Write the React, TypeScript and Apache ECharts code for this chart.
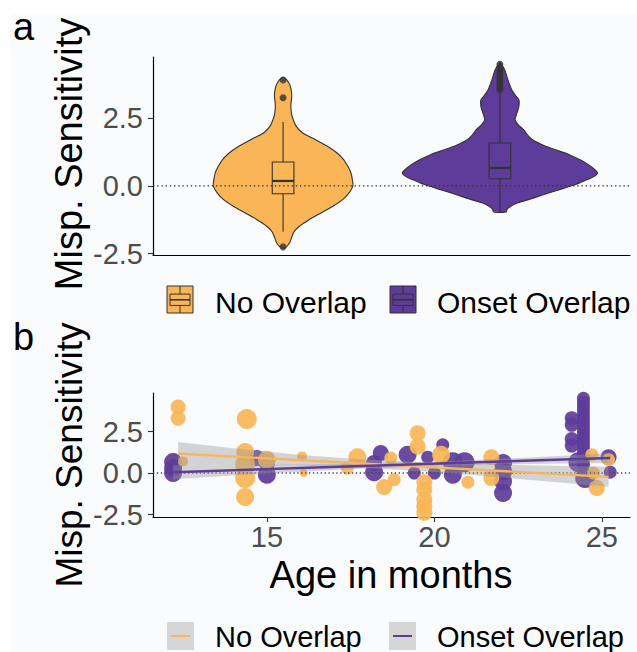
import React, { useEffect, useRef } from "react";
import * as echarts from "echarts";

const FONT = "'Liberation Sans', Arial, Helvetica, sans-serif";

const groups = ["No Overlap", "Onset Overlap"];
const groupColors = ["#F9B556", "#5E3C99"];

// ---- Panel a: violin profiles (value level, half width in category units)
const violinNoLevels = [4.0, 3.9, 3.7, 3.5, 3.3, 3.0, 2.7, 2.5, 2.2, 1.95, 1.7, 1.43, 1.2, 0.96, 0.7, 0.48, 0.2, 0.0, -0.25, -0.5, -0.75, -1.0, -1.25, -1.5, -1.7, -1.87, -2.1, -2.25, -2.3];
const violinNoHalf = [0, 0.018, 0.032, 0.038, 0.04, 0.036, 0.038, 0.044, 0.06, 0.09, 0.15, 0.21, 0.25, 0.28, 0.3, 0.313, 0.32, 0.322, 0.305, 0.276, 0.23, 0.175, 0.12, 0.074, 0.05, 0.041, 0.03, 0.015, 0];
const violinOnsetLevels = [4.56, 4.4, 4.26, 3.9, 3.53, 3.3, 3.16, 2.95, 2.79, 2.6, 2.43, 2.25, 2.06, 1.85, 1.69, 1.5, 1.32, 1.15, 0.96, 0.8, 0.65, 0.48, 0.35, 0.22, 0.1, 0.0, -0.15, -0.33, -0.5, -0.62, -0.75, -0.88, -0.96];
const violinOnsetHalf = [0, 0.014, 0.023, 0.037, 0.055, 0.075, 0.088, 0.088, 0.083, 0.075, 0.07, 0.085, 0.11, 0.13, 0.152, 0.2, 0.26, 0.32, 0.37, 0.405, 0.43, 0.45, 0.435, 0.4, 0.365, 0.33, 0.27, 0.2, 0.135, 0.083, 0.05, 0.032, 0.03];

// boxplot statistics per group
const boxQ1 = [-0.29, 0.26];
const boxMedian = [0.18, 0.66];
const boxQ3 = [0.88, 1.58];
const whiskerLow = [-1.69, -0.95];
const whiskerHigh = [2.35, 3.45];
const outliersNo = [3.9, 3.25, -2.25];
const outliersOnset = [3.55, 3.65, 3.75, 3.85, 3.95, 4.05, 4.15, 4.25, 4.35, 4.48];

// ---- Panel b: points (age, value, size)
const ageNo = [12.35, 12.35, 12.5, 14.4, 14.35, 14.35, 14.35, 14.35, 15.0, 16.05, 16.1, 17.7, 17.4, 18.5, 18.8, 18.7, 19.5, 19.5, 19.7, 19.7, 19.7, 19.7, 19.7, 20.2, 21.0, 21.7, 21.7, 24.7, 24.85, 24.75, 25.2];
const valNo = [3.98, 3.3, 0.7, 3.25, 1.27, 0.5, -0.3, -1.45, 0.8, 1.0, 0.0, 0.95, 0.3, -0.85, -0.4, 0.9, 2.4, 1.6, -0.55, -1.0, -1.6, -2.0, -2.4, 1.1, -0.55, 0.95, -0.3, 1.1, -0.9, 0.0, 0.8];
const sizeNo = [15, 15, 10, 20, 18, 20, 20, 18, 18, 10, 8, 18, 13, 16, 13, 13, 16, 16, 16, 16, 16, 16, 16, 18, 13, 16, 16, 13, 16, 13, 13];

const ageOnset = [12.2, 12.2, 12.2, 14.7, 15.0, 15.0, 18.4, 18.2, 18.2, 19.2, 19.4, 19.8, 20.0, 20.25, 20.55, 20.55, 20.9, 22.05, 22.05, 22.05, 22.05, 24.1, 24.1, 24.1, 24.1, 24.45, 24.45, 24.45, 24.45, 24.45, 24.45, 24.45, 24.45, 24.45, 24.45, 24.45, 24.45, 24.45, 24.45, 24.45, 24.45, 24.45, 24.3, 24.5, 25.2, 25.25];
const valOnset = [0.66, 0.3, 0.0, 0.9, -0.1, 0.6, 1.2, 0.05, 0.6, 1.1, 0.0, 0.95, 0.0, 1.7, 0.65, -0.1, 0.65, 0.6, 0.1, -0.5, -1.2, 3.3, 2.9, 2.05, 1.65, 4.5, 4.25, 4.0, 3.75, 3.5, 3.25, 3.0, 2.75, 2.5, 2.25, 2.0, 1.75, 1.5, 1.25, 1.0, 0.75, 0.5, 0.65, -0.3, 0.95, 0.05];
const sizeOnset = [18, 18, 18, 16, 18, 16, 16, 18, 16, 18, 13, 13, 13, 13, 20, 18, 20, 18, 18, 18, 18, 14, 14, 14, 14, 13, 13, 13, 13, 13, 13, 13, 13, 13, 13, 13, 13, 13, 13, 13, 13, 13, 20, 20, 16, 13];

// linear fits
const fitAgesNo = [12.35, 25.2];
const fitValsNo = [1.17, -0.23];
const fitAgesOnset = [12.2, 25.25];
const fitValsOnset = [0.05, 0.9];

// confidence bands
const bandAgesNo = [12.35, 14, 16, 18, 20, 22, 24, 25.2];
const bandLowNo = [0.47, 0.49, 0.45, 0.3, 0.06, -0.26, -0.62, -0.83];
const bandHighNo = [1.87, 1.49, 1.09, 0.8, 0.62, 0.5, 0.42, 0.37];
const bandAgesOnset = [12.2, 14, 16, 18, 20, 22, 24, 25.25];
const bandLowOnset = [-0.37, -0.15, 0.08, 0.27, 0.42, 0.52, 0.58, 0.6];
const bandHighOnset = [0.47, 0.49, 0.52, 0.59, 0.7, 0.86, 1.06, 1.2];

const yTicks = [-2.5, 0, 2.5];
const xTicksB = [15, 20, 25];

export default function App() {
  const ref = useRef<HTMLDivElement>(null);
  useEffect(() => {
    const chart = echarts.init(ref.current!, null, { renderer: "svg" });
    const violinLevels = [violinNoLevels, violinOnsetLevels];
    const violinHalf = [violinNoHalf, violinOnsetHalf];

    const axisLine = { show: true, onZero: false, lineStyle: { color: "#000", width: 1.2 } };
    const yAxisCommon = (gi: number, min: number, max: number) => ({
      type: "value",
      gridIndex: gi,
      min,
      max,
      axisLine,
      splitLine: { show: false },
      axisTick: { show: true, customValues: yTicks, length: 5, lineStyle: { color: "#333", width: 1.1 } },
      axisLabel: {
        show: true,
        customValues: yTicks,
        formatter: (v: number) => v.toFixed(1),
        fontSize: 29,
        fontFamily: FONT,
        color: "#4D4D4D",
        margin: 10,
      },
    });

    const band = (ages: number[], low: number[], high: number[]) => ({
      type: "custom",
      xAxisIndex: 1,
      yAxisIndex: 1,
      silent: true,
      z: 5,
      data: [[ages[0], low[0]]],
      encode: { x: 0, y: 1 },
      renderItem: (_p: any, api: any) => {
        const pts: number[][] = [];
        ages.forEach((a, k) => pts.push(api.coord([a, high[k]])));
        for (let k = ages.length - 1; k >= 0; k--) pts.push(api.coord([ages[k], low[k]]));
        return { type: "polygon", shape: { points: pts }, style: { fill: "rgba(153,153,153,0.4)" } };
      },
    });

    const legendIconA = (x: number, y: number, color: string) => {
      const w = 26, h = 27;
      return [
        { type: "rect", shape: { x, y, width: w, height: h }, style: { fill: color, stroke: "#333", lineWidth: 1 } },
        { type: "rect", shape: { x: x + 3, y: y + h * 0.3, width: w - 6, height: h * 0.42 }, style: { fill: "none", stroke: "#333", lineWidth: 1 } },
        { type: "line", shape: { x1: x + 3, y1: y + h * 0.51, x2: x + w - 3, y2: y + h * 0.51 }, style: { stroke: "#333", lineWidth: 1.6 } },
        { type: "line", shape: { x1: x + w / 2, y1: y, x2: x + w / 2, y2: y + h * 0.3 }, style: { stroke: "#333", lineWidth: 1 } },
        { type: "line", shape: { x1: x + w / 2, y1: y + h * 0.72, x2: x + w / 2, y2: y + h }, style: { stroke: "#333", lineWidth: 1 } },
      ];
    };
    const legendIconB = (x: number, y: number, color: string) => [
      { type: "rect", shape: { x, y, width: 27, height: 28 }, style: { fill: "#D6D6D6" } },
      { type: "line", shape: { x1: x + 4, y1: y + 14, x2: x + 23, y2: y + 14 }, style: { stroke: color, lineWidth: 2 } },
    ];
    const txt = (x: number, y: number, text: string, size: number, extra: any = {}) => ({
      type: "text",
      x,
      y,
      ...extra,
      style: { text, fontSize: size, fontFamily: FONT, fill: "#000", align: "left", verticalAlign: "middle", ...(extra.style || {}) },
    });

    const option: any = {
      animation: false,
      grid: [
        { left: 153, top: 57, width: 477, height: 198 },
        { left: 153, top: 393, width: 477, height: 124 },
      ],
      xAxis: [
        {
          type: "value", gridIndex: 0, min: 0.4, max: 2.6,
          axisLine, axisTick: { show: false }, axisLabel: { show: false }, splitLine: { show: false },
        },
        {
          type: "value", gridIndex: 1, min: 11.6, max: 25.84,
          axisLine, splitLine: { show: false },
          axisTick: { show: true, customValues: xTicksB, length: 5, lineStyle: { color: "#333", width: 1.1 } },
          axisLabel: { show: true, customValues: xTicksB, fontSize: 29, fontFamily: FONT, color: "#4D4D4D", margin: 5 },
        },
      ],
      yAxis: [yAxisCommon(0, -2.55, 4.75), yAxisCommon(1, -2.65, 4.82)],
      series: [
        {
          type: "custom",
          xAxisIndex: 0, yAxisIndex: 0, silent: true, z: 2,
          data: [[1, 0], [2, 0]],
          encode: { x: 0, y: 1 },
          renderItem: (params: any, api: any) => {
            const i = params.dataIndex;
            const lv = violinLevels[i], hw = violinHalf[i];
            const x = api.value(0);
            const pts: number[][] = [];
            lv.forEach((v, k) => pts.push(api.coord([x - hw[k], v])));
            for (let k = lv.length - 1; k >= 0; k--) pts.push(api.coord([x + hw[k], lv[k]]));
            return { type: "polygon", shape: { points: pts, smooth: 0.25 }, style: { fill: groupColors[i], stroke: "#333", lineWidth: 1.1 } };
          },
        },
        {
          type: "custom",
          xAxisIndex: 0, yAxisIndex: 0, silent: true, z: 3,
          data: [[1, boxMedian[0]], [2, boxMedian[1]]],
          encode: { x: 0, y: 1 },
          renderItem: (params: any, api: any) => {
            const i = params.dataIndex;
            const x = api.value(0);
            const bw = 0.05;
            const tl = api.coord([x - bw, boxQ3[i]]);
            const br = api.coord([x + bw, boxQ1[i]]);
            const mL = api.coord([x - bw, boxMedian[i]]);
            const mR = api.coord([x + bw, boxMedian[i]]);
            const wTop = api.coord([x, whiskerHigh[i]]);
            const bTop = api.coord([x, boxQ3[i]]);
            const bBot = api.coord([x, boxQ1[i]]);
            const wBot = api.coord([x, whiskerLow[i]]);
            const st = { stroke: "#333", lineWidth: 1.1 };
            return {
              type: "group",
              children: [
                { type: "line", shape: { x1: wTop[0], y1: wTop[1], x2: bTop[0], y2: bTop[1] }, style: st },
                { type: "line", shape: { x1: bBot[0], y1: bBot[1], x2: wBot[0], y2: wBot[1] }, style: st },
                { type: "rect", shape: { x: tl[0], y: tl[1], width: br[0] - tl[0], height: br[1] - tl[1] }, style: { ...st, fill: groupColors[i] } },
                { type: "line", shape: { x1: mL[0], y1: mL[1], x2: mR[0], y2: mR[1] }, style: { stroke: "#333", lineWidth: 2.2 } },
              ],
            };
          },
        },
        {
          type: "scatter", xAxisIndex: 0, yAxisIndex: 0, silent: true, z: 4,
          symbolSize: 7,
          itemStyle: { color: "#333" },
          data: [...outliersNo.map((v) => [1, v]), ...outliersOnset.map((v) => [2, v])],
        },
        {
          type: "line", xAxisIndex: 0, yAxisIndex: 0, silent: true, z: 5,
          symbol: "none",
          lineStyle: { color: "#333", width: 1.4, type: [1.4, 2.8] },
          data: [[0.4, 0], [2.6, 0]],
        },
        // panel b
        {
          type: "scatter", xAxisIndex: 1, yAxisIndex: 1, silent: true, z: 2,
          itemStyle: { color: groupColors[1], opacity: 0.92 },
          symbolSize: (d: number[]) => d[2],
          data: ageOnset.map((a, k) => [a, valOnset[k], sizeOnset[k]]),
        },
        {
          type: "scatter", xAxisIndex: 1, yAxisIndex: 1, silent: true, z: 3,
          itemStyle: { color: groupColors[0], opacity: 0.92 },
          symbolSize: (d: number[]) => d[2],
          data: ageNo.map((a, k) => [a, valNo[k], sizeNo[k]]),
        },
        {
          type: "line", xAxisIndex: 1, yAxisIndex: 1, silent: true, z: 4,
          symbol: "none",
          lineStyle: { color: "#444", width: 1.3, type: [1.3, 2.6] },
          data: [[11.6, 0], [25.84, 0]],
        },
        band(bandAgesNo, bandLowNo, bandHighNo),
        band(bandAgesOnset, bandLowOnset, bandHighOnset),
        {
          type: "line", xAxisIndex: 1, yAxisIndex: 1, silent: true, z: 6,
          symbol: "none",
          lineStyle: { color: groupColors[0], width: 2.3 },
          data: fitAgesNo.map((a, k) => [a, fitValsNo[k]]),
        },
        {
          type: "line", xAxisIndex: 1, yAxisIndex: 1, silent: true, z: 6,
          symbol: "none",
          lineStyle: { color: groupColors[1], width: 2.5 },
          data: fitAgesOnset.map((a, k) => [a, fitValsOnset[k]]),
        },
      ],
      graphic: [
        txt(13, 27, "a", 38),
        txt(13, 337, "b", 38),
        txt(69, 154, "Misp. Sensitivity", 38, { rotation: Math.PI / 2, style: { align: "center" } }),
        txt(69, 455, "Misp. Sensitivity", 37, { rotation: Math.PI / 2, style: { align: "center" } }),
        txt(391, 575, "Age in months", 38, { style: { align: "center" } }),
        ...legendIconA(167, 286, groupColors[0]),
        txt(215, 302, groups[0], 30),
        ...legendIconA(390, 286, groupColors[1]),
        txt(437, 302, groups[1], 30),
        ...legendIconB(167, 622, groupColors[0]),
        txt(215, 637, groups[0], 29),
        ...legendIconB(389, 622, groupColors[1]),
        txt(437, 637, groups[1], 29),
      ],
    };
    chart.setOption(option);
    return () => chart.dispose();
  }, []);
  return (
    <div style={{ position: "absolute", left: 0, top: 0, width: 637, height: 652, background: "#fff" }}>
      <div style={{ position: "absolute", left: 10, top: 13, width: 627, height: 639, background: "#FAFBFD" }} />
      <div ref={ref} style={{ position: "absolute", left: 0, top: 0, width: 637, height: 652 }} />
    </div>
  );
}
